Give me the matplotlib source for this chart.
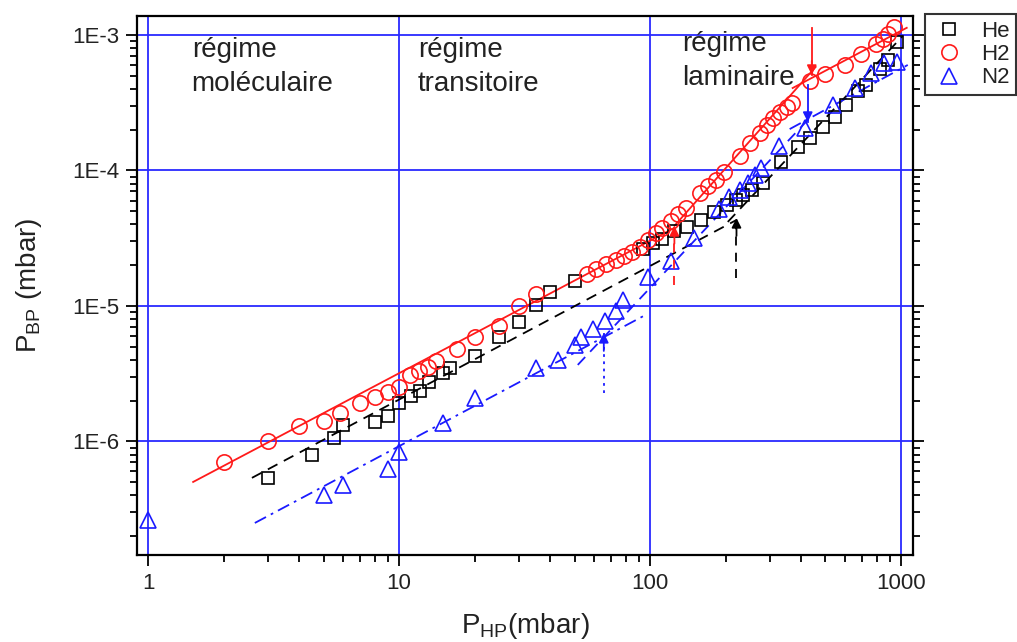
import numpy as np
import matplotlib
matplotlib.use('Agg')
import matplotlib.pyplot as plt
from matplotlib.ticker import LogLocator, FixedFormatter, FixedLocator, NullFormatter

plt.rcParams['font.family'] = ['Liberation Sans', 'DejaVu Sans']

# --- data (P_HP in mbar, P_BP in mbar) ---
he_x = [3, 4.5, 5.5, 6, 8, 9, 10, 11.1, 12.1, 13.1, 15, 16, 20, 25, 30, 35, 40, 50,
        93.5, 102.5, 112, 125, 140, 159, 179, 202, 221, 234, 254, 281, 334, 387, 432,
        487, 544, 601, 671, 722, 822, 885, 960]
he_y = [5.38e-7, 7.95e-7, 1.06e-6, 1.32e-6, 1.39e-6, 1.54e-6, 1.92e-6, 2.17e-6, 2.36e-6,
        2.75e-6, 3.20e-6, 3.49e-6, 4.28e-6, 5.90e-6, 7.62e-6, 1.02e-5, 1.27e-5, 1.53e-5,
        2.63e-5, 2.92e-5, 3.12e-5, 3.58e-5, 3.83e-5, 4.31e-5, 4.94e-5, 5.56e-5, 6.05e-5,
        6.59e-5, 7.18e-5, 8.09e-5, 1.16e-4, 1.49e-4, 1.74e-4, 2.10e-4, 2.48e-4, 3.04e-4,
        3.86e-4, 4.28e-4, 5.61e-4, 6.54e-4, 8.88e-4]

h2_x = [2, 3, 4, 5, 5.8, 7, 8, 9, 10, 11, 12, 13, 14, 17, 20, 25, 30, 35, 56, 61, 67, 73,
        78.5, 84.5, 91, 98, 106, 112, 121, 129, 139, 158, 170, 183, 197, 228, 250, 274,
        292, 308, 328, 350, 367, 432, 497, 597, 692, 794, 847, 887, 936]
h2_y = [7.06e-7, 1.01e-6, 1.30e-6, 1.42e-6, 1.62e-6, 1.92e-6, 2.13e-6, 2.32e-6, 2.52e-6,
        3.10e-6, 3.31e-6, 3.55e-6, 3.93e-6, 4.82e-6, 5.90e-6, 7.12e-6, 1.0e-5, 1.23e-5,
        1.72e-5, 1.88e-5, 2.04e-5, 2.18e-5, 2.34e-5, 2.51e-5, 2.72e-5, 3.07e-5, 3.46e-5,
        3.77e-5, 4.24e-5, 4.77e-5, 5.29e-5, 6.82e-5, 7.69e-5, 8.51e-5, 9.75e-5, 1.28e-4,
        1.60e-4, 1.89e-4, 2.17e-4, 2.44e-4, 2.70e-4, 2.94e-4, 3.15e-4, 4.58e-4, 5.15e-4,
        6.01e-4, 7.24e-4, 8.58e-4, 9.34e-4, 1.017e-3, 1.15e-3]

n2_x = [1, 5, 6, 9, 10, 15, 20, 35, 43, 50, 53, 59, 66, 73, 78, 98, 121, 149, 188, 207,
        228, 245, 261, 276, 326, 413, 534, 653, 757, 853, 960]
n2_y = [2.64e-7, 4.03e-7, 4.78e-7, 6.27e-7, 8.37e-7, 1.37e-6, 2.09e-6, 3.49e-6, 3.99e-6,
        5.15e-6, 5.90e-6, 6.76e-6, 7.75e-6, 9.19e-6, 1.11e-5, 1.64e-5, 2.15e-5, 3.18e-5,
        5.20e-5, 6.37e-5, 7.18e-5, 8.09e-5, 9.27e-5, 1.04e-4, 1.52e-4, 2.06e-4, 3.04e-4,
        4.06e-4, 5.24e-4, 6.21e-4, 6.32e-4]

# fitted segments: (x0, x1), (y0, y1)
h2_fits = [((1.51, 125), (5.02e-7, 3.77e-5)),
           ((125, 457), (3.9e-5, 5.81e-4)),
           ((370, 1054), (4.06e-4, 1.13e-3))]
he_fits = [((2.59, 221), (5.38e-7, 4.31e-5)),
           ((204, 1016), (4.17e-5, 9.83e-4))]
n2_fits = [((2.66, 95), (2.50e-7, 8.5e-6)),
           ((51.5, 425), (3.67e-6, 2.36e-4)),
           ((360, 1064), (2.02e-4, 6.01e-4))]

# transition arrows: x, y_tail, y_head
arr_h2_lam = (441, 1.13e-3, 5.07e-4)
arr_n2_lam = (425, 4.28e-4, 2.28e-4)
arr_h2_tr = (125, 1.43e-5, 3.89e-5)
arr_he_tr = (221, 1.61e-5, 4.46e-5)
arr_n2_tr = (65.4, 2.28e-6, 6.32e-6)

RED = '#ff1a1a'
BLUE = '#1a1aff'

fig = plt.figure(figsize=(10.17, 6.42), dpi=100)
ax = fig.add_axes([0.1347, 0.1355, 0.7630, 0.8395])
ax.set_xscale('log')
ax.set_yscale('log')
ax.set_xlim(0.902, 1116)
ax.set_ylim(1.45e-7, 1.38e-3)

for v in [1, 10, 100, 1000]:
    ax.axvline(v, color='#2a2aff', lw=1.3, zorder=0)
for v in [1e-6, 1e-5, 1e-4, 1e-3]:
    ax.axhline(v, color='#2a2aff', lw=1.3, zorder=0)

for (xs, ys) in h2_fits:
    ax.plot(xs, ys, color=RED, lw=1.3, ls='-', zorder=2)
for (xs, ys) in he_fits:
    ax.plot(xs, ys, color='black', lw=1.3, ls=(0, (6, 4)), zorder=2)
for i, (xs, ys) in enumerate(n2_fits):
    st = (0, (6, 4)) if i == 1 else (0, (7, 3, 1.5, 3))
    ax.plot(xs, ys, color=BLUE, lw=1.3, ls=st, zorder=2)

ax.plot(he_x, he_y, ls='none', marker='s', ms=9, mfc='none', mec='black', mew=1.2,
        label='He', zorder=3)
ax.plot(h2_x, h2_y, ls='none', marker='o', ms=11, mfc='none', mec=RED, mew=1.2,
        label='H2', zorder=3)
ax.plot(n2_x, n2_y, ls='none', marker='^', ms=11, mfc='none', mec=BLUE, mew=1.2,
        label='N2', zorder=3)


def arrow(spec, color, ls):
    x, y0, y1 = spec
    ax.plot([x, x], [y0, y1], color=color, lw=1.3, ls=ls, zorder=4)
    ybase = y1 * (y0 / y1) ** 0.3
    ax.annotate('', xy=(x, y1), xytext=(x, ybase),
                arrowprops=dict(arrowstyle='-|>', color=color, lw=1.3,
                                mutation_scale=14, shrinkA=0, shrinkB=0), zorder=4)


arrow(arr_h2_lam, RED, '-')
arrow(arr_n2_lam, BLUE, '-')
arrow(arr_h2_tr, RED, (0, (5, 4)))
arrow(arr_he_tr, 'black', (0, (5, 4)))
arrow(arr_n2_tr, BLUE, (0, (1.5, 2.5)))

tc = '#222222'
ax.text(1.49, 9.6e-4, 'régime\nmoléculaire', fontsize=20, color=tc, va='top', linespacing=1.4)
ax.text(11.9, 9.6e-4, 'régime\ntransitoire', fontsize=20, color=tc, va='top', linespacing=1.4)
ax.text(134, 1.07e-3, 'régime\nlaminaire', fontsize=20, color=tc, va='top', linespacing=1.4)

ax.xaxis.set_major_locator(FixedLocator([1, 10, 100, 1000]))
ax.xaxis.set_major_formatter(FixedFormatter(['1', '10', '100', '1000']))
ax.xaxis.set_minor_locator(LogLocator(base=10, subs=np.arange(2, 10)))
ax.xaxis.set_minor_formatter(NullFormatter())
ax.yaxis.set_major_locator(FixedLocator([1e-6, 1e-5, 1e-4, 1e-3]))
ax.yaxis.set_major_formatter(FixedFormatter(['1E-6', '1E-5', '1E-4', '1E-3']))
ax.yaxis.set_minor_locator(LogLocator(base=10, subs=np.arange(2, 10)))
ax.yaxis.set_minor_formatter(NullFormatter())

ax.tick_params(which='both', direction='out', right=True, top=False, width=1.3,
               labelsize=16, labelcolor=tc)
ax.tick_params(which='major', length=8, pad=5)
ax.tick_params(which='minor', length=5)
for s in ax.spines.values():
    s.set_linewidth(1.6)

ax.set_xlabel(r'P$_{\mathregular{HP}}$(mbar)', fontsize=20, color=tc, labelpad=12)
ax.set_ylabel(r'P$_{\mathregular{BP}}$ (mbar)', fontsize=20, color=tc, labelpad=20)

leg = fig.legend(loc='upper left', bbox_to_anchor=(0.899, 0.995), fontsize=16,
                 frameon=True, fancybox=False, edgecolor='black', borderpad=0.3,
                 handletextpad=0.7, labelspacing=0.1, handlelength=1.5)
leg.get_frame().set_linewidth(1.5)
for t in leg.get_texts():
    t.set_color(tc)

fig.savefig('out.png', dpi=100)
